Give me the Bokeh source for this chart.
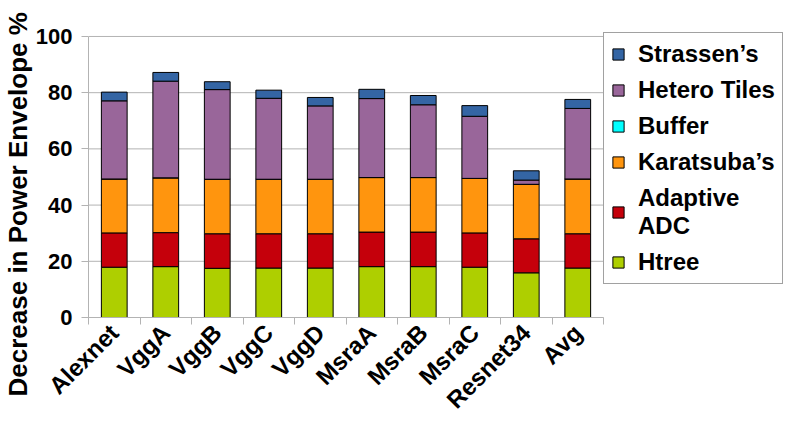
from math import pi

from bokeh.embed import file_html
from bokeh.models import (FixedTicker, Legend, LegendItem, Range1d, Title)
from bokeh.plotting import figure
from bokeh.resources import INLINE

# Networks on the x axis
networks = ["Alexnet", "VggA", "VggB", "VggC", "VggD",
            "MsraA", "MsraB", "MsraC", "Resnet34", "Avg"]

# Contribution of each technique to the decrease in power envelope (%)
htree = [17.9, 18.1, 17.5, 17.6, 17.6, 18.1, 18.1, 17.9, 15.9, 17.6]
adaptive_adc = [12.2, 12.1, 12.3, 12.2, 12.2, 12.3, 12.3, 12.2, 12.1, 12.2]
karatsuba = [19.2, 19.5, 19.4, 19.4, 19.4, 19.4, 19.4, 19.4, 19.4, 19.5]
buffer = [0.0, 0.0, 0.0, 0.0, 0.0, 0.0, 0.0, 0.0, 0.0, 0.0]
hetero_tiles = [27.8, 34.4, 31.9, 28.8, 26.1, 28.1, 25.9, 22.1, 1.5, 25.1]
strassen = [3.1, 3.1, 2.8, 2.9, 3.0, 3.3, 3.3, 3.8, 3.3, 3.2]

y_ticks = [0, 20, 40, 60, 80, 100]

series_keys = ["htree", "adaptive", "karatsuba", "buffer", "hetero", "strassen"]
series_labels = ["Htree", "Adaptive\nADC", "Karatsuba\u2019s", "Buffer",
                 "Hetero Tiles", "Strassen\u2019s"]
colors = ["#aecf00", "#c5000b", "#ff950e", "#00ffff", "#99669a", "#3465a4"]

FONT = "Liberation Sans"
GRID = "#b3b3b3"

W, H = 791, 426
LEFT, TOP, BOTTOM = 88, 31, 108
PLOT_W = 515          # width of the bar area; the legend sits to its right
PX_PER_UNIT = 2.82    # vertical pixels per percent
n = len(networks)

# category centres on a numeric axis so that tick marks can sit on the boundaries
xs = [i + 0.5 for i in range(n)]
source = dict(x=xs, htree=htree, adaptive=adaptive_adc, karatsuba=karatsuba,
              buffer=buffer, hetero=hetero_tiles, strassen=strassen)

# the frame runs to the right edge; bars use [0, n], the rest holds the legend.
# a little head room above 100 leaves space for the legend's top edge.
x_end = n * (W - LEFT) / PLOT_W
y_end = 100 + 5 / PX_PER_UNIT
p = figure(width=W, height=H, output_backend="svg", toolbar_location=None,
           x_range=Range1d(0, x_end), y_range=Range1d(0, y_end))
p.min_border_left = LEFT
p.min_border_top = TOP
p.min_border_bottom = BOTTOM
p.min_border_right = 0
p.outline_line_color = None
p.background_fill_color = "white"
p.border_fill_color = "white"

# horizontal grid lines limited to the bar area
p.xgrid.grid_line_color = None
p.ygrid.grid_line_color = None
p.segment(x0=[0] * len(y_ticks), x1=[n] * len(y_ticks), y0=y_ticks, y1=y_ticks,
          line_color=GRID, line_width=1)

renderers = p.vbar_stack(series_keys, x="x", width=0.5, source=source,
                         color=colors, line_color="black", line_width=1)

# x axis: labels at centres, small ticks at category boundaries
xa = p.xaxis[0]
xa.bounds = (0, n)
xa.ticker = FixedTicker(ticks=xs, minor_ticks=list(range(n + 1)))
xa.major_label_overrides = {x: name for x, name in zip(xs, networks)}
xa.major_label_orientation = pi / 4
xa.major_label_text_font = FONT
xa.major_label_text_font_style = "bold"
xa.major_label_text_font_size = "24px"
xa.major_label_text_color = "black"
xa.major_tick_line_color = None
xa.minor_tick_line_color = GRID
xa.minor_tick_in = 0
xa.minor_tick_out = 7
xa.axis_line_color = GRID
xa.major_label_standoff = 4

ya = p.yaxis[0]
ya.bounds = (0, 100)
ya.ticker = FixedTicker(ticks=y_ticks)
ya.major_label_text_font = FONT
ya.major_label_text_font_style = "bold"
ya.major_label_text_font_size = "22px"
ya.major_label_text_color = "black"
ya.major_tick_line_color = GRID
ya.major_tick_in = 0
ya.major_tick_out = 7
ya.minor_tick_line_color = None
ya.axis_line_color = GRID
ya.major_label_standoff = 9

# vertical axis title, starting a little below the x axis
ytitle = Title(text="Decrease in Power Envelope %", align="left", offset=-79,
               text_font=FONT, text_font_style="bold", text_font_size="26px",
               text_color="black", standoff=0)
p.add_layout(ytitle, "left")

items = [LegendItem(label=lab, renderers=[r])
         for lab, r in zip(series_labels, renderers)][::-1]
legend = Legend(items=items, location=(PLOT_W, 33), margin=0, padding=7,
                spacing=8, label_height=28, glyph_height=14, glyph_width=14,
                label_standoff=13, label_text_font=FONT,
                label_text_font_style="bold", label_text_font_size="24px",
                label_text_color="black", border_line_color="#444444",
                border_line_width=1, background_fill_color="white",
                background_fill_alpha=1.0)
p.add_layout(legend)

open("out.html", "w").write(file_html(p, INLINE))
